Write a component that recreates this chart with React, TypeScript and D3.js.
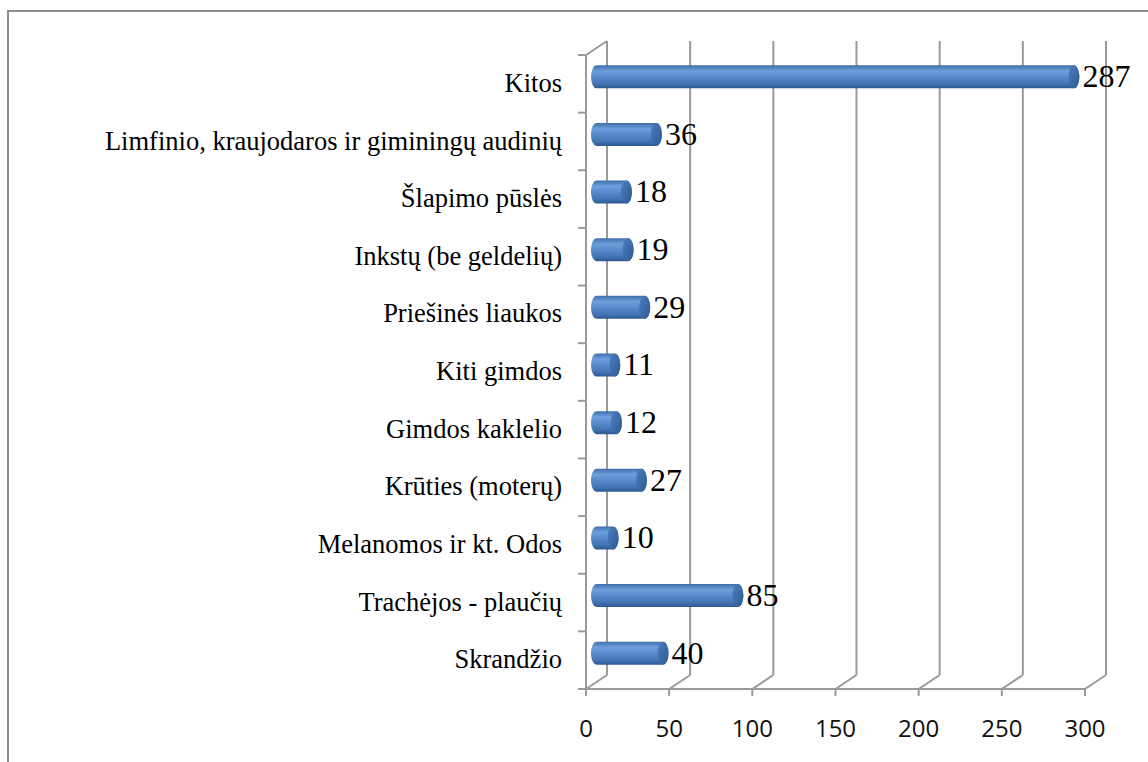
import React from "react";
import * as d3 from "d3";

const categories = [
  "Kitos",
  "Limfinio, kraujodaros ir giminingų audinių",
  "Šlapimo pūslės",
  "Inkstų (be geldelių)",
  "Priešinės liaukos",
  "Kiti gimdos",
  "Gimdos kaklelio",
  "Krūties (moterų)",
  "Melanomos ir kt. Odos",
  "Trachėjos - plaučių",
  "Skrandžio",
];
const values = [287, 36, 18, 19, 29, 11, 12, 27, 10, 85, 40];
const xTicks = [0, 50, 100, 150, 200, 250, 300];

const SERIF = "Liberation Serif, Times New Roman, serif";

export default function App() {
  const W = 1148, H = 762;
  const x = d3.scaleLinear().domain([0, 300]).range([586, 1085]);
  const y = d3.scaleBand<string>().domain(categories).range([55, 689]);
  const dx = 21, dy = -14;
  const floorY = 689;
  const barH = 23;
  const rx = 5.5;
  const grid = "#9a9a9a";

  return (
    <svg width={W} height={H} style={{ position: "absolute", left: 0, top: 0 }}>
      <defs>
        <linearGradient id="cyl" x1="0" y1="0" x2="0" y2="1">
          <stop offset="0" stopColor="#3f6eaa" />
          <stop offset="0.25" stopColor="#6e9fdc" />
          <stop offset="0.45" stopColor="#5d8fd0" />
          <stop offset="0.8" stopColor="#4375b5" />
          <stop offset="1" stopColor="#2d5890" />
        </linearGradient>
        <linearGradient id="cap" x1="0" y1="0" x2="1" y2="1">
          <stop offset="0" stopColor="#4c7dbd" />
          <stop offset="1" stopColor="#2f5a93" />
        </linearGradient>
      </defs>
      <rect x={0} y={0} width={W} height={H} fill="#fff" />
      <rect x={8} y={11} width={1200} height={800} fill="none" stroke="#8c8c8c" strokeWidth={2} />

      {xTicks.map((t) => (
        <g key={"g" + t}>
          <line x1={x(t) + dx} y1={floorY + dy} x2={x(t) + dx} y2={55 + dy} stroke={grid} strokeWidth={2} />
          <line x1={x(t)} y1={floorY} x2={x(t) + dx} y2={floorY + dy} stroke={grid} strokeWidth={2} />
          <line x1={x(t)} y1={floorY} x2={x(t)} y2={floorY + 7} stroke={grid} strokeWidth={2} />
        </g>
      ))}
      <line x1={578} y1={floorY} x2={x(300)} y2={floorY} stroke={grid} strokeWidth={2} />
      <line x1={x(0)} y1={55} x2={x(0)} y2={floorY} stroke={grid} strokeWidth={2} />
      <line x1={x(0)} y1={55} x2={x(0) + dx} y2={55 + dy} stroke={grid} strokeWidth={2} />
      {categories.map((c) => (
        <line key={"t" + c} x1={578} y1={y(c)!} x2={x(0)} y2={y(c)!} stroke={grid} strokeWidth={2} />
      ))}

      {categories.map((c, i) => {
        const yc = y(c)! + y.bandwidth() / 2 + dy / 2;
        const xs = x(0) + dx / 2;
        const xe = xs + (x(values[i]) - x(0));
        const r = barH / 2;
        const p = `M${xs},${yc - r} L${xe},${yc - r} A${rx},${r} 0 0 1 ${xe},${yc + r} L${xs},${yc + r} A${rx},${r} 0 0 1 ${xs},${yc - r} Z`;
        return (
          <g key={"b" + c}>
            <path d={p} fill="url(#cyl)" />
            <ellipse cx={xe} cy={yc} rx={rx} ry={r} fill="url(#cap)" />
            <text
              x={xe + rx + 3}
              y={yc + 3}
              dominantBaseline="middle"
              fontFamily={SERIF}
              fontSize={32}
              fill="#000"
            >
              {values[i]}
            </text>
          </g>
        );
      })}

      {categories.map((c) => (
        <text
          key={"l" + c}
          x={562}
          y={y(c)! + y.bandwidth() / 2 + 2}
          textAnchor="end"
          dominantBaseline="middle"
          fontFamily={SERIF}
          fontSize={26.5}
          fill="#000"
        >
          {c}
        </text>
      ))}

      {xTicks.map((t) => (
        <text
          key={"x" + t}
          x={x(t)}
          y={731}
          textAnchor="middle"
          dominantBaseline="middle"
          fontFamily="Open Sans, sans-serif"
          fontSize={24}
          fill="#111"
        >
          {t}
        </text>
      ))}
    </svg>
  );
}
